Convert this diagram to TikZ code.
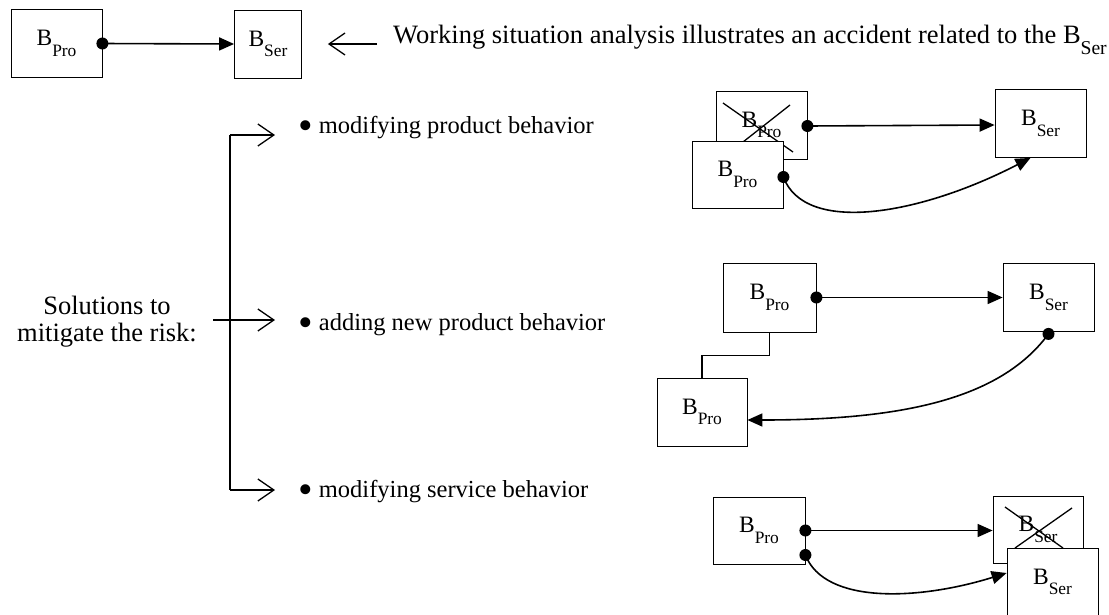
\documentclass[tikz,border=0pt]{standalone}
\usepackage{fontspec}
\setmainfont{Liberation Serif}
\usetikzlibrary{shapes,arrows,arrows.meta}
\tikzstyle{bbox} = [rectangle, draw, fill=white, line width=0.8pt, minimum width=91pt, minimum height=68pt, inner sep=0pt, text centered, font=\fontsize{23.5}{25}\selectfont]
\tikzstyle{line} = [draw, line width=1.6pt, -{Triangle[length=15pt,width=13pt]}]
\tikzstyle{hint} = [draw, line width=1.3pt, -{Straight Barb[length=16pt,width=22pt]}]
\tikzstyle{cross} = [draw, line width=1.3pt]
\tikzstyle{txt} = [inner sep=0pt, font=\fontsize{26.5}{27}\selectfont]
\tikzstyle{item} = [txt, anchor=base west, font=\fontsize{24.5}{27}\selectfont]
\newcommand{\Bsub}[1]{B\raisebox{-0.45em}{\scalebox{0.74}{#1}}}
\newcommand{\dotat}[1]{\fill (#1) circle (6pt);}
\newcommand{\bigdot}{\raisebox{-0.27em}{\scalebox{1.7}{\textbullet}}}

\begin{document}
\begin{tikzpicture}[x=1pt, y=-1pt]
			\useasboundingbox (0,0) rectangle (1109,614);
			\node [bbox] (pro) at (56.5,43.5) {\Bsub{Pro}};
			\node [bbox, minimum width=67pt] (ser) at (268,44) {\Bsub{Ser}};
			\node [txt, anchor=base west] (msg) at (393,43) {Working situation analysis illustrates an accident related to the \Bsub{Ser}};
			\path [line] (pro.east) -- (ser.west);
			\dotat{pro.east}
			\path [hint] ([xshift=-16pt]msg.west |- ser) -- ([xshift=26pt]ser.east);
			\node [txt, align=center] (sol) at (107,322) {Solutions to\\mitigate the risk:};
			\node [item] (modpro) at (298,133) {\bigdot{} modifying product behavior};
			\node [item] (addpro) at (298,330) {\bigdot{} adding new product behavior};
			\node [item] (modser) at (298,497) {\bigdot{} modifying service behavior};
			\coordinate (brtop) at (230,135);
			\coordinate (brmid) at (213,320);
			\coordinate (brbot) at (230,490);
			\draw [line width=1.3pt] (brtop) -- (brbot);
			\path [hint] (brtop) -- (275,135);
			\path [hint] (brmid) -- (275,320);
			\path [hint] (brbot) -- (275,490);
			\node [bbox] (oldpro) at (761.5,125) {\Bsub{Pro}};
			\path [cross] (723,103) -- (793,152);
			\path [cross] (790,105) -- (743,142);
			\node [bbox, minimum height=67pt] (newpro) at (737.5,174.5) {\Bsub{Pro}};
			\node [bbox] (ser1) at (1040.5,123.5) {\Bsub{Ser}};
			\path [line] ([yshift=-1pt]oldpro.east) -- (ser1.west |- oldpro.east);
			\dotat{[yshift=-1pt]oldpro.east}
			\path [line] ([yshift=-2.5pt]newpro.east) .. controls (805,235) and (920,215) .. ([xshift=-10pt]ser1.south);
			\dotat{[yshift=-2.5pt]newpro.east}
			\node [bbox, minimum width=93pt, minimum height=69pt] (pro2) at (769.5,297.5) {\Bsub{Pro}};
			\node [bbox] (ser2) at (1048.5,297.5) {\Bsub{Ser}};
			\node [bbox, minimum width=90pt] (extra) at (702,412) {\Bsub{Pro}};
			\path [line] (pro2.east) -- (ser2.west);
			\dotat{pro2.east}
			\draw [line width=1.3pt] (pro2.south) -- ++(0,23) -| (extra.north);
			\path [line] ([yshift=-2pt]ser2.south) .. controls (1000,400) and (900,420) .. ([yshift=-8pt]extra.east);
			\dotat{[yshift=-2pt]ser2.south}
			\node [bbox, minimum width=92pt, minimum height=67pt] (pro3) at (759,530.5) {\Bsub{Pro}};
			\node [bbox, minimum width=90pt, minimum height=67pt] (oldser) at (1038,529.5) {\Bsub{Ser}};
			\path [cross] (1005,507) -- (1063,548);
			\path [cross] (1072,508) -- (1015,548);
			\node [bbox] (newser) at (1052.5,582) {\Bsub{Ser}};
			\path [line] (pro3.east) -- (oldser.west |- pro3.east);
			\dotat{pro3.east}
			\path [line] ([yshift=-24.5pt]pro3.east) .. controls (825,605) and (920,600) .. ([yshift=9pt]newser.west);
			\dotat{[yshift=-24.5pt]pro3.east}
		\end{tikzpicture}
\end{document}
